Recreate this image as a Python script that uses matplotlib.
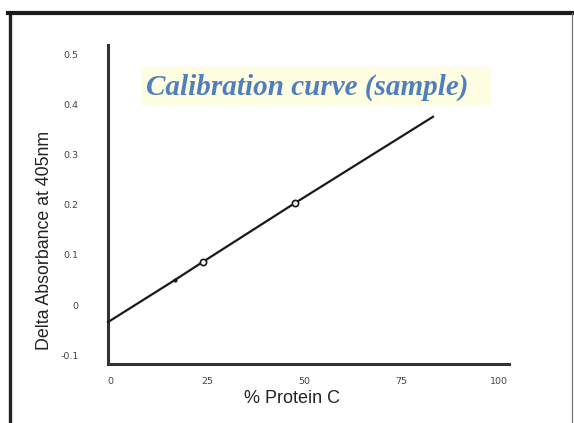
import matplotlib
matplotlib.use("Agg")
import matplotlib.pyplot as plt
from matplotlib.patches import Rectangle
from matplotlib.lines import Line2D

# data
protein = [-0.67, 16.6, 23.8, 47.5, 83.1]
delta_abs = [-0.034, 0.050, 0.086, 0.203, 0.375]
pts_x = [23.8, 47.5]
pts_y = [0.086, 0.203]
dot_x = [16.6]
dot_y = [0.050]

xticks = [0, 25, 50, 75, 100]
yticks = [-0.1, 0, 0.1, 0.2, 0.3, 0.4, 0.5]
ytick_labels = ["-0.1", "0", "0.1", "0.2", "0.3", "0.4", "0.5"]

W, H = 574, 423
fig = plt.figure(figsize=(W / 100, H / 100), dpi=100)
fig.patch.set_facecolor("white")

ax = fig.add_axes([108 / W, 1 - 364 / H, (509 - 108) / W, (364 - 45) / H])
ax.plot(protein, delta_abs, color="#1a1a1a", lw=1.6, clip_on=False, zorder=3)
ax.plot(pts_x, pts_y, "o", ms=4.5, mfc="white", mec="#1a1a1a", mew=1.2, zorder=4)
ax.plot(dot_x, dot_y, "o", ms=2, color="#1a1a1a", zorder=4)

ax.set_xlim(-0.67, 102.7)
ax.set_ylim(-0.1175, 0.518)
ax.set_xticks(xticks)
ax.set_xticklabels([str(t) for t in xticks])
ax.set_yticks(yticks)
ax.set_yticklabels(ytick_labels)
ax.tick_params(axis="both", length=0, labelsize=6.8, labelcolor="#444444")
ax.tick_params(axis="y", pad=21)
ax.tick_params(axis="x", pad=9)

for s in ["top", "right"]:
    ax.spines[s].set_visible(False)
for s in ["left", "bottom"]:
    ax.spines[s].set_linewidth(2.2)
    ax.spines[s].set_color("#333333")

ax.set_ylabel("Delta Absorbance at 405nm", fontsize=12.8, color="#222222",
              family="Liberation Sans")
ax.yaxis.set_label_coords(-(108 - 45) / (509 - 108), (364 - 240) / 319)
ax.set_xlabel("% Protein C", fontsize=13, color="#222222", family="Liberation Sans")
ax.xaxis.set_label_coords((292 - 108) / (509 - 108), -(398 - 364) / 319)
ax.xaxis.label.set_va("center")
ax.yaxis.label.set_va("center")

# title box
fig.patches.append(Rectangle((141 / W, 1 - 106 / H), 350 / W, 39 / H,
                             transform=fig.transFigure, facecolor="#FFFDE2",
                             edgecolor="none", zorder=0))
fig.text(146 / W, 1 - 87 / H, "Calibration curve (sample)", fontsize=21,
         family="Liberation Serif", style="italic", weight="bold",
         color="#4F7FBF", va="center", ha="left")

# outer frame of the screenshot
fig.lines.append(Line2D([9.5 / W, 9.5 / W], [0, 1 - 13.5 / H], transform=fig.transFigure,
                        color="#222222", lw=2.4))
fig.lines.append(Line2D([8 / W, 1], [1 - 13.5 / H, 1 - 13.5 / H], transform=fig.transFigure,
                        color="#1a1a1a", lw=3.0))
fig.lines.append(Line2D([572 / W, 572 / W], [0, 1 - 13.5 / H], transform=fig.transFigure,
                        color="#777777", lw=0.9))

fig.savefig("out.png", dpi=100)
